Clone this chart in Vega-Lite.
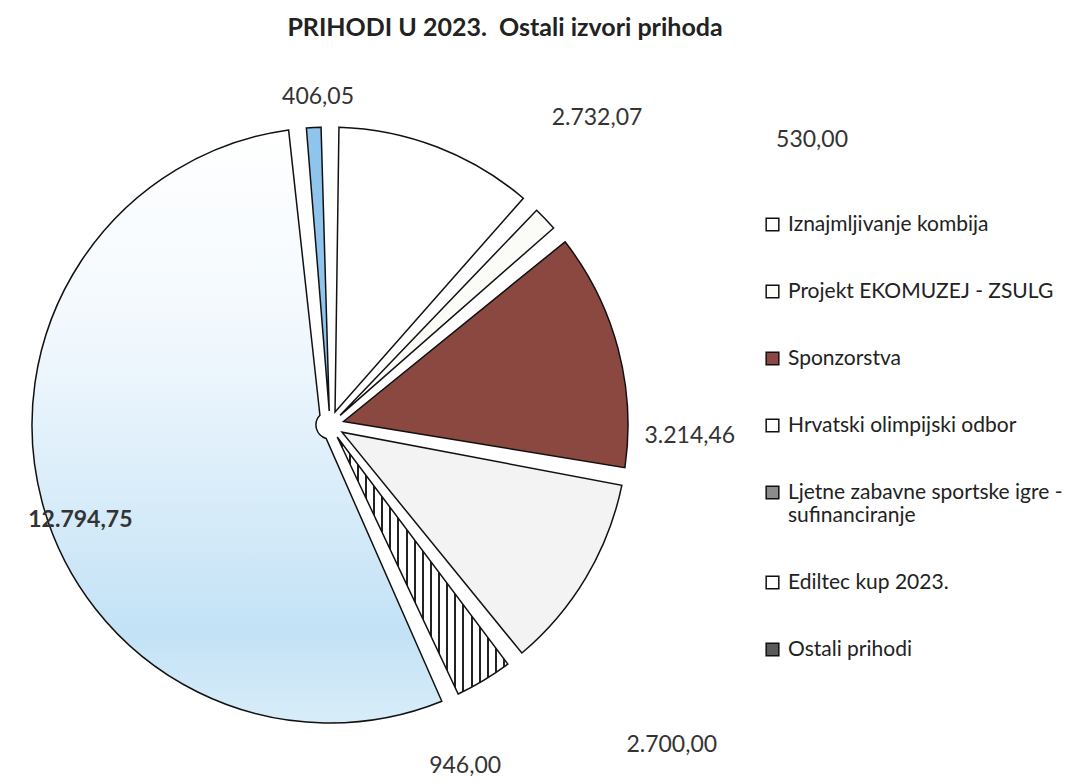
{
  "$schema": "https://vega.github.io/schema/vega-lite/v6.json",
  "autosize": {"type": "none"},
  "width": 660,
  "height": 718,
  "padding": {"left": 0, "top": 66, "right": 407, "bottom": 0},
  "background": "white",
  "title": {"text": "PRIHODI U 2023.\u00a0 Ostali izvori prihoda", "frame": "group", "font": "Lato", "fontSize": 25, "fontWeight": "bold", "color": "#222222", "anchor": "middle", "dx": 175, "offset": 25},
  "data": {"values": [
    {"red": 1, "kategorija": "Iznajmljivanje kombija", "vrijednost": 2732.07, "oznaka": "2.732,07"},
    {"red": 2, "kategorija": "Projekt EKOMUZEJ - ZSULG", "vrijednost": 530.00, "oznaka": "530,00"},
    {"red": 3, "kategorija": "Sponzorstva", "vrijednost": 3214.46, "oznaka": "3.214,46"},
    {"red": 4, "kategorija": "Hrvatski olimpijski odbor", "vrijednost": 2700.00, "oznaka": "2.700,00"},
    {"red": 5, "kategorija": "Ljetne zabavne sportske igre - sufinanciranje", "vrijednost": 946.00, "oznaka": "946,00"},
    {"red": 6, "kategorija": "Ediltec kup 2023.", "vrijednost": 12794.75, "oznaka": "12.794,75"},
    {"red": 7, "kategorija": "Ostali prihodi", "vrijednost": 406.05, "oznaka": "406,05"}
  ]},
  "transform": [
    {"stack": "vrijednost", "groupby": [], "sort": [{"field": "red", "order": "ascending"}], "as": ["t0", "t1"]}
  ],
  "layer": [
    {
      "mark": {"type": "arc", "outerRadius": 298, "innerRadius": 14, "padAngle": 0.06, "stroke": "#111111", "strokeWidth": 1.5},
      "encoding": {
        "theta": {"field": "t0", "type": "quantitative", "scale": {"domain": [0, 23323.33], "nice": false, "zero": true}},
        "theta2": {"field": "t1"},
        "fill": {
          "field": "kategorija", "type": "nominal",
          "scale": {
            "domain": ["Iznajmljivanje kombija", "Projekt EKOMUZEJ - ZSULG", "Sponzorstva", "Hrvatski olimpijski odbor", "Ljetne zabavne sportske igre - sufinanciranje", "Ediltec kup 2023.", "Ostali prihodi"],
            "range": ["#ffffff", "#fbfbf8", "#8a4840", "#ffffff", "#8c8c8c", "#ffffff", "#5a5a5a"]
          },
          "legend": {
            "title": null, "orient": "none", "legendX": 762, "legendY": 148,
            "symbolType": "square", "symbolSize": 160, "symbolStrokeColor": "#111111", "symbolStrokeWidth": 1.5,
            "labelFont": "Lato", "labelFontSize": 21, "labelColor": "#222222", "labelLimit": 320, "labelOffset": 5,
            "rowPadding": 45,
            "labelExpr": "datum.label === 'Ljetne zabavne sportske igre - sufinanciranje' ? ['Ljetne zabavne sportske igre -', 'sufinanciranje'] : datum.label"
          },
          "condition": [
            {"test": "datum.red === 6", "value": {"gradient": "linear", "x1": 0, "y1": 0, "x2": 0, "y2": 1, "stops": [
              {"offset": 0, "color": "#ffffff"}, {"offset": 0.35, "color": "#f1f8fd"}, {"offset": 0.85, "color": "#c3e2f6"}, {"offset": 1, "color": "#d8edf9"}]}},
            {"test": "datum.red === 7", "value": "#8fc4ec"},
            {"test": "datum.red === 4", "value": "#f3f3f3"},
            {"test": "datum.red === 5", "value": {"gradient": "linear", "x1": 0, "y1": 0, "x2": 1, "y2": 0, "stops": [
              {"offset": 0, "color": "#ffffff"},
              {"offset": 0.020, "color": "#ffffff"}, {"offset": 0.020, "color": "#222222"}, {"offset": 0.031, "color": "#222222"}, {"offset": 0.031, "color": "#ffffff"},
              {"offset": 0.068, "color": "#ffffff"}, {"offset": 0.068, "color": "#222222"}, {"offset": 0.079, "color": "#222222"}, {"offset": 0.079, "color": "#ffffff"},
              {"offset": 0.115, "color": "#ffffff"}, {"offset": 0.115, "color": "#222222"}, {"offset": 0.126, "color": "#222222"}, {"offset": 0.126, "color": "#ffffff"},
              {"offset": 0.163, "color": "#ffffff"}, {"offset": 0.163, "color": "#222222"}, {"offset": 0.174, "color": "#222222"}, {"offset": 0.174, "color": "#ffffff"},
              {"offset": 0.210, "color": "#ffffff"}, {"offset": 0.210, "color": "#222222"}, {"offset": 0.221, "color": "#222222"}, {"offset": 0.221, "color": "#ffffff"},
              {"offset": 0.258, "color": "#ffffff"}, {"offset": 0.258, "color": "#222222"}, {"offset": 0.269, "color": "#222222"}, {"offset": 0.269, "color": "#ffffff"},
              {"offset": 0.306, "color": "#ffffff"}, {"offset": 0.306, "color": "#222222"}, {"offset": 0.317, "color": "#222222"}, {"offset": 0.317, "color": "#ffffff"},
              {"offset": 0.353, "color": "#ffffff"}, {"offset": 0.353, "color": "#222222"}, {"offset": 0.364, "color": "#222222"}, {"offset": 0.364, "color": "#ffffff"},
              {"offset": 0.401, "color": "#ffffff"}, {"offset": 0.401, "color": "#222222"}, {"offset": 0.412, "color": "#222222"}, {"offset": 0.412, "color": "#ffffff"},
              {"offset": 0.448, "color": "#ffffff"}, {"offset": 0.448, "color": "#222222"}, {"offset": 0.459, "color": "#222222"}, {"offset": 0.459, "color": "#ffffff"},
              {"offset": 0.496, "color": "#ffffff"}, {"offset": 0.496, "color": "#222222"}, {"offset": 0.507, "color": "#222222"}, {"offset": 0.507, "color": "#ffffff"},
              {"offset": 0.544, "color": "#ffffff"}, {"offset": 0.544, "color": "#222222"}, {"offset": 0.555, "color": "#222222"}, {"offset": 0.555, "color": "#ffffff"},
              {"offset": 0.591, "color": "#ffffff"}, {"offset": 0.591, "color": "#222222"}, {"offset": 0.602, "color": "#222222"}, {"offset": 0.602, "color": "#ffffff"},
              {"offset": 0.639, "color": "#ffffff"}, {"offset": 0.639, "color": "#222222"}, {"offset": 0.650, "color": "#222222"}, {"offset": 0.650, "color": "#ffffff"},
              {"offset": 0.686, "color": "#ffffff"}, {"offset": 0.686, "color": "#222222"}, {"offset": 0.697, "color": "#222222"}, {"offset": 0.697, "color": "#ffffff"},
              {"offset": 0.734, "color": "#ffffff"}, {"offset": 0.734, "color": "#222222"}, {"offset": 0.745, "color": "#222222"}, {"offset": 0.745, "color": "#ffffff"},
              {"offset": 0.782, "color": "#ffffff"}, {"offset": 0.782, "color": "#222222"}, {"offset": 0.793, "color": "#222222"}, {"offset": 0.793, "color": "#ffffff"},
              {"offset": 0.829, "color": "#ffffff"}, {"offset": 0.829, "color": "#222222"}, {"offset": 0.840, "color": "#222222"}, {"offset": 0.840, "color": "#ffffff"},
              {"offset": 0.877, "color": "#ffffff"}, {"offset": 0.877, "color": "#222222"}, {"offset": 0.888, "color": "#222222"}, {"offset": 0.888, "color": "#ffffff"},
              {"offset": 0.924, "color": "#ffffff"}, {"offset": 0.924, "color": "#222222"}, {"offset": 0.935, "color": "#222222"}, {"offset": 0.935, "color": "#ffffff"},
              {"offset": 0.972, "color": "#ffffff"}, {"offset": 0.972, "color": "#222222"}, {"offset": 0.983, "color": "#222222"}, {"offset": 0.983, "color": "#ffffff"},
              {"offset": 1, "color": "#ffffff"}]}}
          ]
        }
      }
    },
    {
      "transform": [{"filter": "datum.red === 1"}],
      "mark": {"type": "text", "radius": 407, "thetaOffset": 0.7156, "font": "Lato", "fontSize": 23, "color": "#333333"},
      "encoding": {"theta": {"field": "t0", "type": "quantitative"}, "text": {"field": "oznaka"}}
    },
    {
      "transform": [{"filter": "datum.red === 2"}],
      "mark": {"type": "text", "radius": 560, "thetaOffset": 0.3007, "font": "Lato", "fontSize": 23, "color": "#333333"},
      "encoding": {"theta": {"field": "t0", "type": "quantitative"}, "text": {"field": "oznaka"}}
    },
    {
      "transform": [{"filter": "datum.red === 3"}],
      "mark": {"type": "text", "radius": 360, "thetaOffset": 0.7226, "font": "Lato", "fontSize": 23, "color": "#333333"},
      "encoding": {"theta": {"field": "t0", "type": "quantitative"}, "text": {"field": "oznaka"}}
    },
    {
      "transform": [{"filter": "datum.red === 4"}],
      "mark": {"type": "text", "radius": 468, "thetaOffset": 0.5782, "font": "Lato", "fontSize": 23, "color": "#333333"},
      "encoding": {"theta": {"field": "t0", "type": "quantitative"}, "text": {"field": "oznaka"}}
    },
    {
      "transform": [{"filter": "datum.red === 5"}],
      "mark": {"type": "text", "radius": 367, "thetaOffset": 0.2925, "font": "Lato", "fontSize": 23, "color": "#333333"},
      "encoding": {"theta": {"field": "t0", "type": "quantitative"}, "text": {"field": "oznaka"}}
    },
    {
      "transform": [{"filter": "datum.red === 6"}],
      "mark": {"type": "text", "radius": 267, "thetaOffset": 1.6225, "font": "Lato", "fontSize": 23, "fontWeight": "bold", "color": "#333333"},
      "encoding": {"theta": {"field": "t0", "type": "quantitative"}, "text": {"field": "oznaka"}}
    },
    {
      "transform": [{"filter": "datum.red === 7"}],
      "mark": {"type": "text", "radius": 328, "thetaOffset": 0.0728, "font": "Lato", "fontSize": 23, "color": "#333333"},
      "encoding": {"theta": {"field": "t0", "type": "quantitative"}, "text": {"field": "oznaka"}}
    }
  ]
}
